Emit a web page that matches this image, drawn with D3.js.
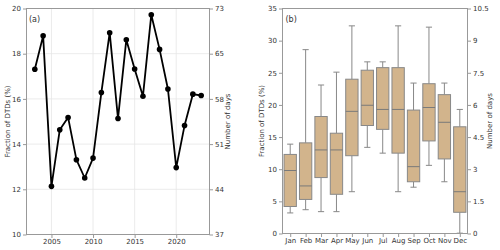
<!DOCTYPE html>
<html><head><meta charset="utf-8">
<script src="https://cdn.jsdelivr.net/npm/d3@7"></script>
<style>body{margin:0;background:#fff}svg{display:block}text{font-family:"DejaVu Sans",sans-serif}</style>
</head><body>
<svg id="c" width="500" height="250"></svg>
<script>
const years = [2003,2004,2005,2006,2007,2008,2009,2010,2011,2012,2013,2014,2015,2016,2017,2018,2019,2020,2021,2022,2023];
const fraction = [17.31,18.79,12.13,14.63,15.18,13.31,12.5,13.38,16.28,18.93,15.13,18.62,17.32,16.12,19.72,18.19,16.44,12.96,14.82,16.21,16.15];
const leftTicksA = [10,12,14,16,18,20];
const rightLabelsA = ["37","44","51","58","65","73"];
const xTicksA = [2005,2010,2015,2020];

const months = ["Jan","Feb","Mar","Apr","May","Jun","Jul","Aug","Sep","Oct","Nov","Dec"];
const whiskerLow = [3.2,3.7,3.4,3.4,6.5,13.4,12.5,6.5,7.2,10.6,8.05,0.05];
const q1 = [4.2,5.3,8.7,6.1,12.1,16.8,16.2,12.5,8.05,14.4,11.6,3.3];
const median = [9.8,7.4,13.0,13.0,19.0,19.95,19.3,19.3,10.4,19.6,17.3,6.5];
const q3 = [12.3,14.1,18.2,15.6,24.0,25.4,25.8,25.8,19.2,23.3,21.6,16.6];
const whiskerHigh = [13.9,28.6,23.1,25.1,32.3,26.7,26.7,32.3,23.4,32.1,23.4,19.3];
const leftTicksB = [0,5,10,15,20,25,30,35];
const rightLabelsB = ["0","1.5","3","4.5","6","7.5","9","10.5"];

const svg = d3.select("#c");
const fs = 7, txt = "#333", spine = "#999";

function frame(g, x0, x1, y0, y1){
  g.append("rect").attr("x",x0).attr("y",y0).attr("width",x1-x0).attr("height",y1-y0)
   .attr("fill","none").attr("stroke",spine).attr("stroke-width",1);
}

// Panel (a)
{
  const L=26.5, R=209.5, T=8.5, B=234.5;
  const x = d3.scaleLinear().domain([2002,2024]).range([L,R]);
  const y = d3.scaleLinear().domain([10,20]).range([B,T]);
  const g = svg.append("g");
  g.selectAll(".gx").data(xTicksA).join("line").attr("x1",d=>x(d)).attr("x2",d=>x(d)).attr("y1",T).attr("y2",B).attr("stroke","#e6e6e6").attr("stroke-width",0.8);
  g.selectAll(".gy").data(leftTicksA).join("line").attr("x1",L).attr("x2",R).attr("y1",d=>y(d)).attr("y2",d=>y(d)).attr("stroke","#e6e6e6").attr("stroke-width",0.8);
  const ax = g.append("g").attr("transform",`translate(0,${B})`).call(d3.axisBottom(x).tickValues(xTicksA).tickFormat(d3.format("d")).tickSize(3.5).tickPadding(1.5));
  const ay = g.append("g").attr("transform",`translate(${L},0)`).call(d3.axisLeft(y).tickValues(leftTicksA).tickSize(3.5).tickPadding(2));
  const ay2 = g.append("g").attr("transform",`translate(${R},0)`).call(d3.axisRight(y).tickValues(leftTicksA).tickFormat((d,i)=>rightLabelsA[i]).tickSize(3.5).tickPadding(2));
  [ax,ay,ay2].forEach(a=>{a.select(".domain").remove();a.selectAll("line").attr("stroke",spine);a.selectAll("text").attr("fill",txt).attr("font-size",fs).attr("font-family","DejaVu Sans");});
  frame(g,L,R,T,B);
  const line = d3.line().x((d,i)=>x(years[i])).y(d=>y(d));
  g.append("path").datum(fraction).attr("d",line).attr("fill","none").attr("stroke","#000").attr("stroke-width",1.8).attr("stroke-linejoin","round");
  g.selectAll(".pt").data(fraction).join("circle").attr("cx",(d,i)=>x(years[i])).attr("cy",d=>y(d)).attr("r",2.8).attr("fill","#000");
  g.append("text").attr("x",L+2.5).attr("y",T+13).attr("font-size",8).attr("fill",txt).text("(a)");
  g.append("text").attr("transform",`translate(8.5,${(T+B)/2}) rotate(-90)`).attr("text-anchor","middle").attr("dominant-baseline","middle").attr("font-size",fs).attr("fill",txt).text("Fraction of DTDs (%)");
  g.append("text").attr("transform",`translate(228,${(T+B)/2}) rotate(-90)`).attr("text-anchor","middle").attr("dominant-baseline","middle").attr("font-size",fs).attr("fill",txt).text("Number of days");
}

// Panel (b)
{
  const L=282.5, R=467.5, T=8.5, B=233.5;
  const x = d3.scaleLinear().domain([0.5,12.5]).range([L,R]);
  const y = d3.scaleLinear().domain([0,35]).range([B,T]);
  const g = svg.append("g");
  const pos = months.map((m,i)=>i+1);
  const ax = g.append("g").attr("transform",`translate(0,${B})`).call(d3.axisBottom(x).tickValues(pos).tickFormat((d,i)=>months[i]).tickSize(3.5).tickPadding(1.5));
  const ay = g.append("g").attr("transform",`translate(${L},0)`).call(d3.axisLeft(y).tickValues(leftTicksB).tickSize(3.5).tickPadding(2));
  const ay2 = g.append("g").attr("transform",`translate(${R},0)`).call(d3.axisRight(y).tickValues(leftTicksB).tickFormat((d,i)=>rightLabelsB[i]).tickSize(3.5).tickPadding(2));
  [ax,ay,ay2].forEach(a=>{a.select(".domain").remove();a.selectAll("line").attr("stroke",spine);a.selectAll("text").attr("fill",txt).attr("font-size",fs).attr("font-family","DejaVu Sans");});
  const bw = (x(1.8)-x(1));
  const cw = bw/2;
  const ec = "#888";
  const bx = g.selectAll(".box").data(months).join("g");
  bx.append("line").attr("x1",(d,i)=>x(i+1)).attr("x2",(d,i)=>x(i+1)).attr("y1",(d,i)=>y(whiskerLow[i])).attr("y2",(d,i)=>y(q1[i])).attr("stroke",ec).attr("stroke-width",1);
  bx.append("line").attr("x1",(d,i)=>x(i+1)).attr("x2",(d,i)=>x(i+1)).attr("y1",(d,i)=>y(q3[i])).attr("y2",(d,i)=>y(whiskerHigh[i])).attr("stroke",ec).attr("stroke-width",1);
  bx.append("line").attr("x1",(d,i)=>x(i+1)-cw/2).attr("x2",(d,i)=>x(i+1)+cw/2).attr("y1",(d,i)=>y(whiskerLow[i])).attr("y2",(d,i)=>y(whiskerLow[i])).attr("stroke",ec).attr("stroke-width",1);
  bx.append("line").attr("x1",(d,i)=>x(i+1)-cw/2).attr("x2",(d,i)=>x(i+1)+cw/2).attr("y1",(d,i)=>y(whiskerHigh[i])).attr("y2",(d,i)=>y(whiskerHigh[i])).attr("stroke",ec).attr("stroke-width",1);
  bx.append("rect").attr("x",(d,i)=>x(i+1)-bw/2).attr("width",bw).attr("y",(d,i)=>y(q3[i])).attr("height",(d,i)=>y(q1[i])-y(q3[i])).attr("fill","#d2b48c").attr("stroke",ec).attr("stroke-width",1);
  bx.append("line").attr("x1",(d,i)=>x(i+1)-bw/2).attr("x2",(d,i)=>x(i+1)+bw/2).attr("y1",(d,i)=>y(median[i])).attr("y2",(d,i)=>y(median[i])).attr("stroke","#7a7a7a").attr("stroke-width",1);
  frame(g,L,R,T,B);
  g.append("text").attr("x",L+3).attr("y",T+13).attr("font-size",8).attr("fill",txt).text("(b)");
  g.append("text").attr("transform",`translate(262.5,${(T+B)/2}) rotate(-90)`).attr("text-anchor","middle").attr("dominant-baseline","middle").attr("font-size",fs).attr("fill",txt).text("Fraction of DTDs (%)");
  g.append("text").attr("transform",`translate(490.5,${(T+B)/2}) rotate(-90)`).attr("text-anchor","middle").attr("dominant-baseline","middle").attr("font-size",fs).attr("fill",txt).text("Number of days");
}
</script>
</body></html>
